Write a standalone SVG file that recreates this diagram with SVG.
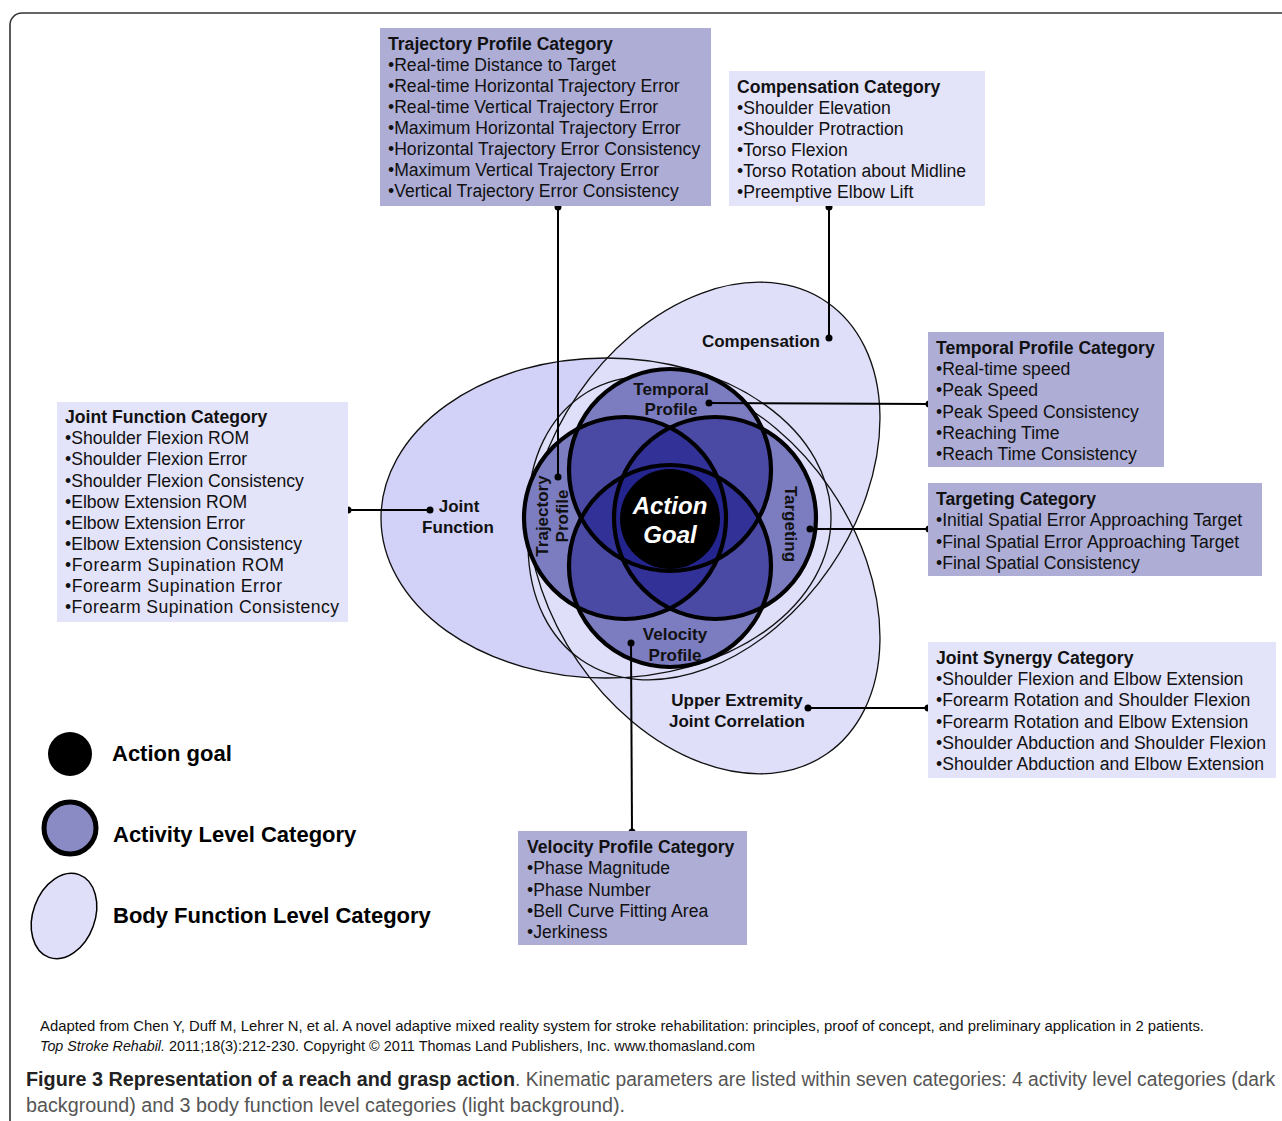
<svg xmlns="http://www.w3.org/2000/svg" width="1282" height="1121" viewBox="0 0 1282 1121">
<style>
.bx{font-family:"Liberation Sans",Arial,sans-serif;font-size:17.6px;fill:#111}
.bt{font-weight:bold}
.lbl{font-family:"Liberation Sans",Arial,sans-serif;font-size:17px;font-weight:bold;fill:#111}
.dark{fill:#adadd6}
.light{fill:#e3e3fa}
.bf{stroke:#111;stroke-width:1.3;fill:none}
.act{fill:rgb(22,22,135);fill-opacity:0.485}
.acts{fill:none;stroke:#000;stroke-width:4.2}
.con line{stroke:#000;stroke-width:2}
.con circle{fill:#000}
.leg{font-family:"Liberation Sans",Arial,sans-serif;font-size:22px;font-weight:bold;fill:#000}
.cap{font-family:"Liberation Sans",Arial,sans-serif}
</style>
<rect width="1282" height="1121" fill="#fff"/>
<rect x="10" y="13" width="1320" height="1200" rx="12" fill="none" stroke="#333" stroke-width="1.6"/>

<g id="body-ellipses">
  <ellipse cx="606" cy="518" rx="225" ry="160" fill="#d2d2f8"/>
  <ellipse cx="704" cy="481" rx="153" ry="217" transform="rotate(34.4 704 481)" fill="#dfdffa"/>
  <ellipse cx="704" cy="575" rx="153" ry="217" transform="rotate(-34.4 704 575)" fill="#dfdffa"/>
  <ellipse class="bf" cx="606" cy="518" rx="225" ry="160"/>
  <ellipse class="bf" cx="704" cy="481" rx="153" ry="217" transform="rotate(34.4 704 481)"/>
  <ellipse class="bf" cx="704" cy="575" rx="153" ry="217" transform="rotate(-34.4 704 575)"/>
</g>

<g id="activity-cluster">
  <g fill="#dcdcf8">
    <circle cx="670" cy="470" r="101"/>
    <circle cx="670" cy="566" r="101"/>
    <circle cx="625" cy="518" r="101"/>
    <circle cx="715" cy="518" r="101"/>
  </g>
  <circle class="act" cx="670" cy="470" r="101"/>
  <circle class="act" cx="670" cy="566" r="101"/>
  <circle class="act" cx="625" cy="518" r="101"/>
  <circle class="act" cx="715" cy="518" r="101"/>
  <circle class="acts" cx="670" cy="470" r="101"/>
  <circle class="acts" cx="670" cy="566" r="101"/>
  <circle class="acts" cx="625" cy="518" r="101"/>
  <circle class="acts" cx="715" cy="518" r="101"/>
</g>

<g id="action-goal">
  <circle cx="670" cy="519" r="50" fill="#000"/>
  <text x="670" y="514" text-anchor="middle" font-family="Liberation Sans, Arial, sans-serif" font-size="24" font-weight="bold" font-style="italic" fill="#fff">Action</text>
  <text x="670" y="543" text-anchor="middle" font-family="Liberation Sans, Arial, sans-serif" font-size="24" font-weight="bold" font-style="italic" fill="#fff">Goal</text>
</g>

<g id="temporal-label"><text class="lbl" x="671" y="395" text-anchor="middle">Temporal</text><text class="lbl" x="671" y="415" text-anchor="middle">Profile</text></g>
<g id="trajectory-label">
  <text class="lbl" transform="translate(548 516) rotate(-90)" text-anchor="middle">Trajectory</text>
  <text class="lbl" transform="translate(568 516) rotate(-90)" text-anchor="middle">Profile</text>
</g>
<g id="targeting-label"><text class="lbl" transform="translate(785 524) rotate(90)" text-anchor="middle">Targeting</text></g>
<g id="velocity-label"><text class="lbl" x="675" y="640" text-anchor="middle">Velocity</text><text class="lbl" x="675" y="661" text-anchor="middle">Profile</text></g>
<g id="compensation-label"><text class="lbl" x="820" y="347" text-anchor="end">Compensation</text></g>
<g id="joint-function-label"><text class="lbl" x="459" y="512" text-anchor="middle">Joint</text><text class="lbl" x="458" y="533" text-anchor="middle">Function</text></g>
<g id="ue-label"><text class="lbl" x="737" y="706" text-anchor="middle">Upper Extremity</text><text class="lbl" x="737" y="727" text-anchor="middle">Joint Correlation</text></g>

<g id="connectors" class="con">
  <line x1="558" y1="207" x2="558" y2="477"/><circle cx="558" cy="207" r="3.5"/><circle cx="558" cy="477" r="3.5"/>
  <line x1="829" y1="206" x2="829" y2="338"/><circle cx="829" cy="207" r="3.5"/><circle cx="829" cy="338" r="3.5"/>
  <line x1="709" y1="403" x2="929" y2="404"/><circle cx="709" cy="403" r="3.5"/><circle cx="929" cy="404" r="3.5"/>
  <line x1="810" y1="529" x2="929" y2="529"/><circle cx="810" cy="529" r="3.5"/><circle cx="929" cy="529" r="3.5"/>
  <line x1="348" y1="510" x2="430" y2="510"/><circle cx="348" cy="510" r="3.5"/><circle cx="430" cy="510" r="3.5"/>
  <line x1="808" y1="708" x2="928" y2="708"/><circle cx="808" cy="708" r="3.5"/><circle cx="928" cy="708" r="3.5"/>
  <line x1="631" y1="643" x2="632" y2="832"/><circle cx="631" cy="643" r="3.5"/><circle cx="632" cy="832" r="3.5"/>
</g>

<g id="trajectory-box">
  <rect class="dark" x="380" y="28" width="331" height="178"/>
  <text class="bx" x="388" y="50"><tspan class="bt">Trajectory Profile Category</tspan><tspan x="388" dy="21">•Real-time Distance to Target</tspan><tspan x="388" dy="21">•Real-time Horizontal Trajectory Error</tspan><tspan x="388" dy="21">•Real-time Vertical Trajectory Error</tspan><tspan x="388" dy="21">•Maximum Horizontal Trajectory Error</tspan><tspan x="388" dy="21">•Horizontal Trajectory Error Consistency</tspan><tspan x="388" dy="21">•Maximum Vertical Trajectory Error</tspan><tspan x="388" dy="21">•Vertical Trajectory Error Consistency</tspan></text>
</g>
<g id="compensation-box">
  <rect class="light" x="729" y="71" width="256" height="135"/>
  <text class="bx" x="737" y="93"><tspan class="bt">Compensation Category</tspan><tspan x="737" dy="21">•Shoulder Elevation</tspan><tspan x="737" dy="21">•Shoulder Protraction</tspan><tspan x="737" dy="21">•Torso Flexion</tspan><tspan x="737" dy="21">•Torso Rotation about Midline</tspan><tspan x="737" dy="21">•Preemptive Elbow Lift</tspan></text>
</g>
<g id="joint-function-box">
  <rect class="light" x="57" y="402" width="291" height="220"/>
  <text class="bx" x="65" y="423"><tspan class="bt">Joint Function Category</tspan><tspan x="65" dy="21.2">•Shoulder Flexion ROM</tspan><tspan x="65" dy="21.2">•Shoulder Flexion Error</tspan><tspan x="65" dy="21.2">•Shoulder Flexion Consistency</tspan><tspan x="65" dy="21.2">•Elbow Extension ROM</tspan><tspan x="65" dy="21.2">•Elbow Extension Error</tspan><tspan x="65" dy="21.2">•Elbow Extension Consistency</tspan></text>
  <text class="bx" x="65" y="571" textLength="219" lengthAdjust="spacing">•Forearm Supination ROM</text>
  <text class="bx" x="65" y="592" textLength="217" lengthAdjust="spacing">•Forearm Supination Error</text>
  <text class="bx" x="65" y="613" textLength="274" lengthAdjust="spacing">•Forearm Supination Consistency</text>
</g>
<g id="temporal-box">
  <rect class="dark" x="928" y="332" width="236" height="135"/>
  <text class="bx" x="936" y="354"><tspan class="bt">Temporal Profile Category</tspan><tspan x="936" dy="21.2">•Real-time speed</tspan><tspan x="936" dy="21.2">•Peak Speed</tspan><tspan x="936" dy="21.2">•Peak Speed Consistency</tspan><tspan x="936" dy="21.2">•Reaching Time</tspan><tspan x="936" dy="21.2">•Reach Time Consistency</tspan></text>
</g>
<g id="targeting-box">
  <rect class="dark" x="928" y="483" width="334" height="93"/>
  <text class="bx" x="936" y="505"><tspan class="bt">Targeting Category</tspan><tspan x="936" dy="21.3">•Initial Spatial Error Approaching Target</tspan><tspan x="936" dy="21.3">•Final Spatial Error Approaching Target</tspan><tspan x="936" dy="21.3">•Final Spatial Consistency</tspan></text>
</g>
<g id="joint-synergy-box">
  <rect class="light" x="928" y="642" width="348" height="136"/>
  <text class="bx" x="936" y="664"><tspan class="bt">Joint Synergy Category</tspan><tspan x="936" dy="21.2">•Shoulder Flexion and Elbow Extension</tspan><tspan x="936" dy="21.2">•Forearm Rotation and Shoulder Flexion</tspan><tspan x="936" dy="21.2">•Forearm Rotation and Elbow Extension</tspan><tspan x="936" dy="21.2">•Shoulder Abduction and Shoulder Flexion</tspan><tspan x="936" dy="21.2">•Shoulder Abduction and Elbow Extension</tspan></text>
</g>
<g id="velocity-box">
  <rect class="dark" x="518" y="831" width="229" height="114"/>
  <text class="bx" x="527" y="853"><tspan class="bt">Velocity Profile Category</tspan><tspan x="527" dy="21.3">•Phase Magnitude</tspan><tspan x="527" dy="21.3">•Phase Number</tspan><tspan x="527" dy="21.3">•Bell Curve Fitting Area</tspan><tspan x="527" dy="21.3">•Jerkiness</tspan></text>
</g>

<g id="legend">
  <circle cx="70" cy="754" r="22" fill="#000"/>
  <text class="leg" x="112" y="761">Action goal</text>
  <circle cx="70" cy="828" r="26" fill="#8a8ac4" stroke="#000" stroke-width="5"/>
  <text class="leg" x="113" y="842">Activity Level Category</text>
  <ellipse cx="64" cy="916" rx="31" ry="44" transform="rotate(20 64 916)" fill="#dfdffa" stroke="#000" stroke-width="1.5"/>
  <text class="leg" x="113" y="923">Body Function Level Category</text>
</g>

<g id="caption" class="cap">
  <text x="40" y="1031" font-size="15" fill="#111" textLength="1164" lengthAdjust="spacingAndGlyphs">Adapted from Chen Y, Duff M, Lehrer N, et al. A novel adaptive mixed reality system for stroke rehabilitation: principles, proof of concept, and preliminary application in 2 patients.</text>
  <text x="40" y="1051" font-size="15" font-style="italic" fill="#111" textLength="125" lengthAdjust="spacingAndGlyphs">Top Stroke Rehabil.</text>
  <text x="169" y="1051" font-size="15" fill="#111" textLength="586" lengthAdjust="spacingAndGlyphs">2011;18(3):212-230. Copyright © 2011 Thomas Land Publishers, Inc. www.thomasland.com</text>
  <text x="26" y="1086" font-size="20" font-weight="bold" fill="#222" textLength="489" lengthAdjust="spacingAndGlyphs">Figure 3 Representation of a reach and grasp action</text>
  <text x="515" y="1086" font-size="20" fill="#555" textLength="760" lengthAdjust="spacingAndGlyphs">. Kinematic parameters are listed within seven categories: 4 activity level categories (dark</text>
  <text x="26" y="1112" font-size="20" fill="#555" textLength="599" lengthAdjust="spacingAndGlyphs">background) and 3 body function level categories (light background).</text>
</g>
</svg>
